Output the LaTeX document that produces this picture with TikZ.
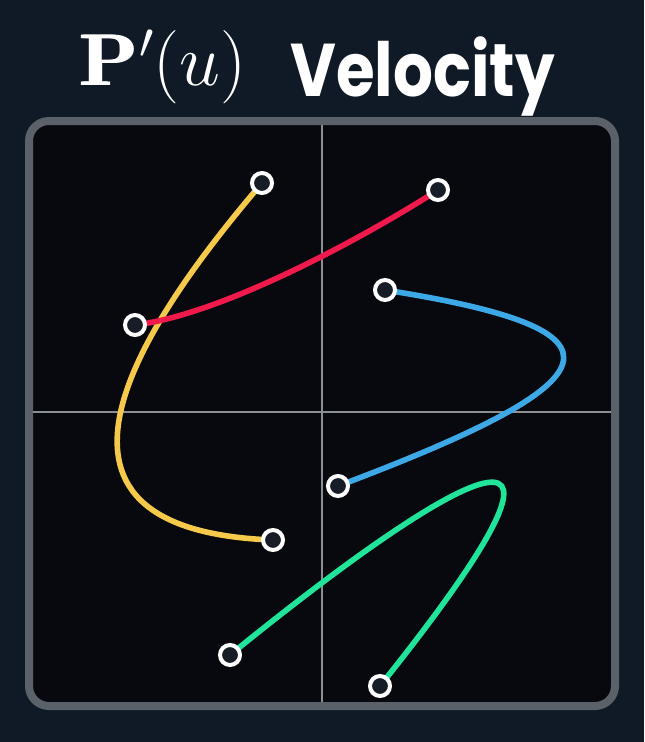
\RequirePackage{fix-cm}
\documentclass[tikz,border=0pt]{standalone}
\usepackage{amsmath}
\usepackage{fontspec}
\newfontfamily\titlefont{Poppins}
\newfontfamily\boldlm{lmroman10-bold.otf}
% heavier P: the same glyph laid down three times side by side
\newcommand{\heavyP}{\rlap{\boldlm P}\kern1.2pt\rlap{\boldlm P}\kern1.2pt{\boldlm P}}
\definecolor{bgnavy}{HTML}{0F1A26}
\definecolor{plotblack}{HTML}{07090E}
\definecolor{framegray}{HTML}{5B6168}
\definecolor{axisgray}{HTML}{8A8F94}
\definecolor{dotfill}{HTML}{161D27}
\definecolor{curveyellow}{HTML}{F5C94A}
\definecolor{curvered}{HTML}{F0194C}
\definecolor{curveblue}{HTML}{3CA9E6}
\definecolor{curvegreen}{HTML}{20E49A}

\begin{document}
\begin{tikzpicture}[x=0.75pt, y=-0.75pt,
    dot/.style={circle, draw=white, line width=3pt, fill=dotfill, inner sep=0pt, minimum size=15pt},
    curve/.style={line width=4.2pt, line cap=round},
    axis/.style={axisgray, line width=1.1pt}]
          % background and plot frame
          \useasboundingbox (0,0) rectangle (644,742);
          \fill[bgnavy] (0,0) rectangle (644,742);
          \draw[framegray, line width=6pt, fill=plotblack, rounded corners=15pt] (29,121) rectangle (615,706);

          % title
          \node[inner sep=0pt, anchor=base west, white, font=\fontsize{55}{60}\selectfont] (formula) at (78,85) {\heavyP$^{\prime}(u)$};
          \node[inner sep=0pt, anchor=base west, white, font=\titlefont\bfseries\fontsize{56}{60}\selectfont] (name) at (290,97) {\scalebox{0.84}[1]{Velocity}};

          % axes
          \coordinate (top) at (322,125);
          \coordinate (bottom) at (322,702);
          \coordinate (left) at (33,412);
          \coordinate (right) at (611,412);
          \draw[axis] (top) -- (bottom);
          \draw[axis] (left) -- (right);

          % end points
          \coordinate (y1) at (262,183);
          \coordinate (y2) at (273,540);
          \coordinate (r1) at (135,325);
          \coordinate (r2) at (438,190);
          \coordinate (b1) at (385,290);
          \coordinate (b2) at (338,486);
          \coordinate (g1) at (230,655);
          \coordinate (g2) at (380,686);

          \draw[curve, curveyellow] (y1) .. controls (145,320) and (0,530) .. (y2);
          \draw[curve, curvered] (r1) .. controls (220,315) and (360,240) .. (r2);
          \draw[curve, curveblue] (b1) .. controls (640,330) and (620,380) .. (b2);
          \draw[curve, curvegreen] (g1) .. controls (470,460) and (625,380) .. (g2);

          \foreach \p in {y1,y2,r1,r2,b1,b2,g1,g2}
            \node[dot] (\p dot) at (\p) {};
        \end{tikzpicture}
\end{document}
